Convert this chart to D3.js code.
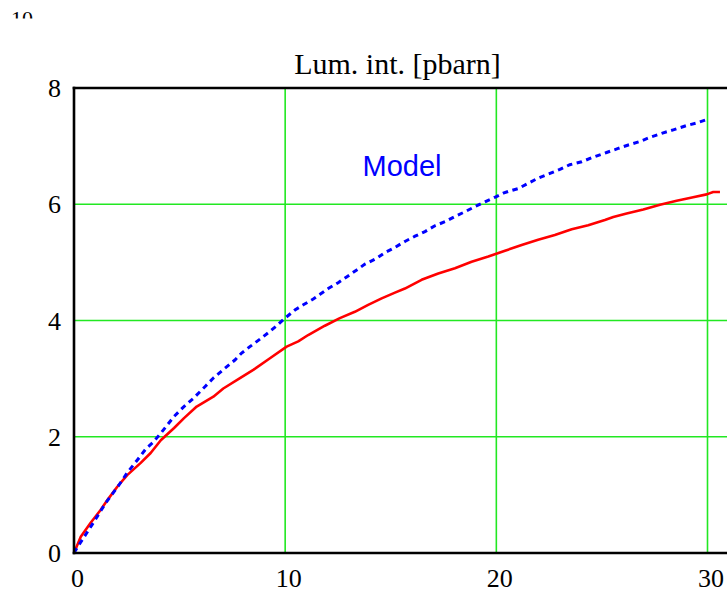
<!DOCTYPE html>
<html><head><meta charset="utf-8">
<script src="https://cdn.jsdelivr.net/npm/d3@7"></script>
<style>html,body{margin:0;padding:0;background:#fff;overflow:hidden}</style>
</head><body>
<script>
const xTicks = [0, 10, 20, 30];
const yTicks = [0, 2, 4, 6, 8];
const xGrid = [10, 20, 30];
const yGrid = [2, 4, 6];
const titleText = "Lum. int. [pbarn]";
const modelLabel = "Model";
const topStray = "10";

// Red (solid) series
const redX = [0,0.32,0.79,1.26,1.58,2.05,2.52,3.16,3.63,4.11,4.74,5.21,5.81,6.6,7.07,7.86,8.49,9.28,10.07,10.62,11.09,11.88,12.59,13.3,13.93,14.57,15.2,15.67,16.46,17.25,18.04,18.83,19.62,20.41,21.2,21.98,22.77,23.57,24.35,25.14,25.54,26.17,26.96,27.75,28.54,29.32,29.96,30.27,30.59];
const redY = [0,0.28,0.52,0.74,0.91,1.14,1.34,1.55,1.72,1.94,2.15,2.32,2.52,2.69,2.83,3.01,3.15,3.35,3.55,3.64,3.75,3.91,4.04,4.15,4.27,4.38,4.48,4.55,4.70,4.81,4.90,5.01,5.10,5.20,5.30,5.39,5.47,5.57,5.64,5.73,5.78,5.84,5.91,5.99,6.06,6.12,6.17,6.21,6.21];

// Blue (dashed, "Model") series
const blueX = [0,0.08,0.38,0.95,1.5,2.13,2.52,3.0,3.4,3.76,4.13,4.74,5.18,5.65,6.2,6.6,7.15,7.62,7.94,8.33,8.81,9.2,9.6,9.99,10.46,10.86,11.33,11.65,12.04,12.51,12.91,13.39,13.78,14.33,14.73,15.12,15.67,16.15,16.62,17.09,17.57,18.04,18.51,18.99,19.46,19.93,20.33,20.56,21.04,21.51,21.98,22.54,23.01,23.48,24.04,24.59,25.22,25.77,26.25,26.8,27.27,27.83,28.38,28.98,29.51,29.99];
const blueY = [0,0.05,0.22,0.54,0.86,1.17,1.38,1.6,1.79,1.91,2.07,2.35,2.51,2.66,2.86,3.01,3.18,3.32,3.44,3.55,3.68,3.79,3.91,4.04,4.18,4.27,4.37,4.45,4.55,4.65,4.75,4.87,4.97,5.07,5.17,5.24,5.36,5.45,5.53,5.63,5.70,5.79,5.87,5.96,6.04,6.12,6.19,6.22,6.27,6.36,6.45,6.53,6.60,6.68,6.73,6.81,6.89,6.96,7.02,7.08,7.15,7.22,7.28,7.35,7.40,7.46];

const W = 727, H = 592;
const L = 74, T = 88, B = 553, R = 745;
const svg = d3.select("body").append("svg").attr("width", W).attr("height", H);

const x = d3.scaleLinear().domain([0, 30]).range([L, 707.5]);
const y = d3.scaleLinear().domain([0, 8]).range([B, T]);

// stray clipped label at top-left
svg.append("clipPath").attr("id", "topclip")
  .append("rect").attr("x", 0).attr("y", 0).attr("width", 80).attr("height", 18.5);
svg.append("text").attr("clip-path", "url(#topclip)")
  .attr("x", 22).attr("y", 26).attr("text-anchor", "middle")
  .attr("font-family", "'Liberation Serif','Times New Roman',serif").attr("font-size", 22)
  .text(topStray);

// grid
const gridColor = "#22e822";
svg.append("g").selectAll("line").data(xGrid).join("line")
  .attr("x1", d => x(d)).attr("x2", d => x(d)).attr("y1", T).attr("y2", B)
  .attr("stroke", gridColor).attr("stroke-width", 1.6);
svg.append("g").selectAll("line").data(yGrid).join("line")
  .attr("x1", L).attr("x2", R).attr("y1", d => y(d)).attr("y2", d => y(d))
  .attr("stroke", gridColor).attr("stroke-width", 1.6);

// series
const redData = redX.map((v, i) => [v, redY[i]]);
const blueData = blueX.map((v, i) => [v, blueY[i]]);
const line = d3.line().x(d => x(d[0])).y(d => y(d[1]));
svg.append("path").attr("d", line(redData)).attr("fill", "none")
  .attr("stroke", "#ff0000").attr("stroke-width", 2.6).attr("stroke-linejoin", "round");
svg.append("path").attr("d", line(blueData)).attr("fill", "none")
  .attr("stroke", "#0000ff").attr("stroke-width", 3).attr("stroke-dasharray", "5.5,4.5");

// frame
const frame = svg.append("g").attr("stroke", "#000").attr("stroke-width", 2.6);
frame.append("line").attr("x1", L).attr("x2", L).attr("y1", T - 1.3).attr("y2", B + 1.3);
frame.append("line").attr("x1", L - 1.3).attr("x2", R).attr("y1", T).attr("y2", T);
frame.append("line").attr("x1", L - 1.3).attr("x2", R).attr("y1", B).attr("y2", B);

// axes (labels only)
const fontSerif = "'Liberation Serif','Times New Roman',serif";
const gx = svg.append("g").attr("transform", `translate(0,${B})`)
  .call(d3.axisBottom(x).tickValues(xTicks).tickSize(0).tickFormat(d3.format("d")));
gx.select(".domain").remove();
gx.selectAll("text").attr("y", 34).attr("dy", null).attr("dx", 3)
  .attr("font-family", fontSerif).attr("font-size", 26).attr("fill", "#000");

const gy = svg.append("g").attr("transform", `translate(${L},0)`)
  .call(d3.axisLeft(y).tickValues(yTicks).tickSize(0).tickPadding(13).tickFormat(d3.format("d")));
gy.select(".domain").remove();
gy.selectAll("text").attr("dy", null).attr("y", 8.5)
  .attr("font-family", fontSerif).attr("font-size", 26).attr("fill", "#000");

// title
svg.append("text").attr("x", 397.5).attr("y", 73.5).attr("text-anchor", "middle")
  .attr("font-family", fontSerif).attr("font-size", 30).attr("fill", "#000")
  .text(titleText);

// Model label
svg.append("text").attr("x", 362.5).attr("y", 176).attr("text-anchor", "start")
  .attr("font-family", "'Liberation Sans',Arial,sans-serif").attr("font-size", 29).attr("fill", "#0000ff")
  .text(modelLabel);
</script>
</body></html>
